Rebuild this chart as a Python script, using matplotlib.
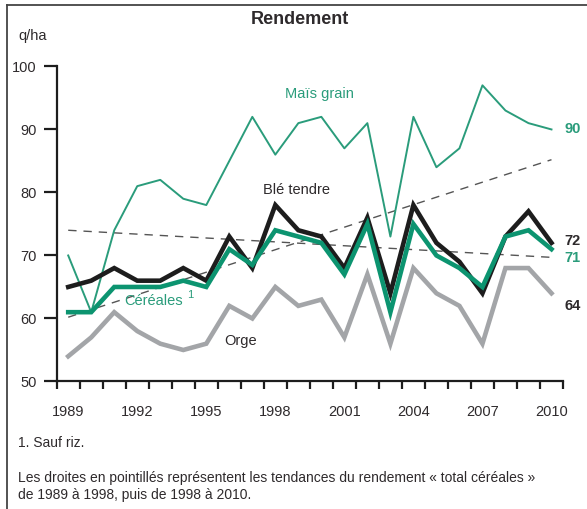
import matplotlib
matplotlib.use("Agg")
import matplotlib.pyplot as plt
from matplotlib.lines import Line2D
import numpy as np

plt.rcParams['font.family'] = ['Liberation Sans Narrow', 'Liberation Sans', 'DejaVu Sans']

years = list(range(1989, 2011))
mais = [70, 61, 74, 81, 82, 79, 78, 85, 92, 86, 91, 92, 87, 91, 73, 92, 84, 87, 97, 93, 91, 90]
ble = [65, 66, 68, 66, 66, 68, 66, 73, 68, 78, 74, 73, 68, 76, 64, 78, 72, 69, 64, 73, 77, 72]
cereales = [61, 61, 65, 65, 65, 66, 65, 71, 68.5, 74, 73, 72, 67, 75, 61, 75, 70, 68, 65, 73, 74, 71]
orge = [54, 57, 61, 58, 56, 55, 56, 62, 60, 65, 62, 63, 57, 67, 56, 68, 64, 62, 56, 68, 68, 64]
trend1_ends = [60.2, 85.2]   # 1989 -> 2010 (tendance 1989-1998)
trend2_ends = [74.0, 69.7]   # 1989 -> 2010 (tendance 1998-2010)
xlabels = [1989, 1992, 1995, 1998, 2001, 2004, 2007, 2010]
ylabels = [50, 60, 70, 80, 90, 100]

c_mais = '#2a9c7b'
c_cer = '#0c9470'
c_ble = '#1d1d1d'
c_orge = '#a3a5a8'
c_text = '#2e2a2c'
c_dash = '#555555'

fig = plt.figure(figsize=(5.87, 5.09), dpi=100)
ax = fig.add_axes([0.0966, 0.2505, 0.8625, 0.619])

ax.plot([years[0], years[-1]], trend1_ends, color=c_dash, lw=1.0, dashes=(6, 5), zorder=1)
ax.plot([years[0], years[-1]], trend2_ends, color=c_dash, lw=1.0, dashes=(6, 5), zorder=1)
ax.plot(years, orge, color=c_orge, lw=3.3, solid_joinstyle='miter', zorder=2)
ax.plot(years, mais, color=c_mais, lw=1.4, zorder=3)
ax.plot(years, ble, color=c_ble, lw=3.3, solid_joinstyle='miter', zorder=4)
ax.plot(years, cereales, color=c_cer, lw=3.3, solid_joinstyle='miter', zorder=5)

ax.set_xlim(1988.5, 2010.5)
ax.set_ylim(50, 100)
for s in ['top', 'right']:
    ax.spines[s].set_visible(False)
for s in ['left', 'bottom']:
    ax.spines[s].set_linewidth(1.6)
    ax.spines[s].set_color('#1d1d1d')

ax.set_yticks(ylabels)
ax.set_yticklabels([str(v) for v in ylabels])
ax.tick_params(axis='y', length=9.5, width=1.6, color='#1d1d1d', pad=5,
               labelsize=10.5, labelcolor=c_text)

ax.set_xticks(np.arange(1988.5, 2011, 1.0), minor=True)
ax.set_xticks(xlabels)
ax.set_xticklabels([str(v) for v in xlabels])
ax.tick_params(axis='x', which='minor', length=6, width=1.6, color='#1d1d1d')
ax.tick_params(axis='x', which='major', length=0, pad=17, labelsize=10.5, labelcolor=c_text)

# series labels
ax.text(1999.9, 95.6, 'Maïs grain', color=c_mais, fontsize=10.5, ha='center', va='center')
ax.text(1998.9, 80.4, 'Blé tendre', color=c_text, fontsize=10.5, ha='center', va='center')
ax.text(1992.7, 62.8, 'Céréales', color=c_mais, fontsize=10.5, ha='center', va='center')
ax.text(1994.3, 63.7, '1', color=c_mais, fontsize=8, ha='center', va='center')
ax.text(1996.5, 56.4, 'Orge', color=c_text, fontsize=10.5, ha='center', va='center')

# end values
ax.text(2010.55, mais[-1], '90', color=c_mais, fontsize=10.5, fontweight='bold', ha='left', va='center', clip_on=False)
ax.text(2010.55, 72.3, '72', color=c_text, fontsize=10.5, fontweight='bold', ha='left', va='center', clip_on=False)
ax.text(2010.55, 69.6, '71', color=c_mais, fontsize=10.5, fontweight='bold', ha='left', va='center', clip_on=False)
ax.text(2010.55, 62.0, '64', color=c_text, fontsize=10.5, fontweight='bold', ha='left', va='center', clip_on=False)

# titles and notes
fig.text(300/587, 1 - 20/509, 'Rendement', fontsize=13, fontweight='bold', color=c_text, ha='center', va='center')
fig.text(18/587, 1 - 36/509, 'q/ha', fontsize=10.5, color=c_text, ha='left', va='center')
fig.text(18/587, 1 - 443/509, '1. Sauf riz.', fontsize=10, color=c_text, ha='left', va='center')
fig.text(18/587, 1 - 478/509, 'Les droites en pointillés représentent les tendances du rendement « total céréales »',
         fontsize=10, color=c_text, ha='left', va='center')
fig.text(18/587, 1 - 495/509, 'de 1989 à 1998, puis de 1998 à 2010.', fontsize=10, color=c_text, ha='left', va='center')

# frame
fig.add_artist(Line2D([7/587, 7/587], [0, 1 - 5/509], transform=fig.transFigure, color='#444444', lw=1.3))
fig.add_artist(Line2D([7/587, 1], [1 - 5/509, 1 - 5/509], transform=fig.transFigure, color='#444444', lw=1.3))

fig.savefig('out.png', dpi=100)
